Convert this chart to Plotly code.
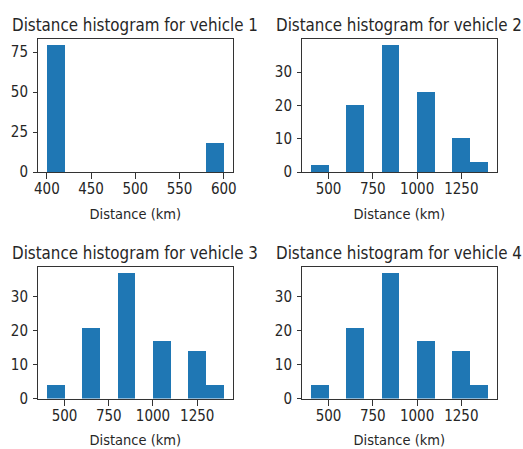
import plotly.graph_objects as go

# ---- data ----
edges_v1 = [400, 420, 440, 460, 480, 500, 520, 540, 560, 580, 600]
counts_v1 = [79, 0, 0, 0, 0, 0, 0, 0, 0, 18]

edges_v234 = [400, 500, 600, 700, 800, 900, 1000, 1100, 1200, 1300, 1400]
counts_v2 = [2, 0, 20, 0, 38, 0, 24, 0, 10, 3]
counts_v3 = [4, 0, 21, 0, 37, 0, 17, 0, 14, 4]
counts_v4 = [4, 0, 21, 0, 37, 0, 17, 0, 14, 4]

titles = ["Distance histogram for vehicle 1", "Distance histogram for vehicle 2",
          "Distance histogram for vehicle 3", "Distance histogram for vehicle 4"]
x_label = "Distance (km)"
xticks_v1 = [400, 450, 500, 550, 600]
yticks_v1 = [0, 25, 50, 75]
xticks_v234 = [500, 750, 1000, 1250]
yticks_v234 = [0, 10, 20, 30]

# ---- styling / layout ----
W, H = 523, 449
FONT = "DejaVu Sans Condensed, DejaVu Sans, sans-serif"
TXT = "#262626"
LINE = "#333333"
BAR = "#1f77b4"

domains = [
    ((38.0 / W, 232.6 / W), (1 - 172.0 / H, 1 - 39.3 / H)),
    ((302.0 / W, 496.7 / W), (1 - 172.0 / H, 1 - 39.3 / H)),
    ((38.0 / W, 232.6 / W), (1 - 398.5 / H, 1 - 266.7 / H)),
    ((302.0 / W, 496.7 / W), (1 - 398.5 / H, 1 - 266.7 / H)),
]

panels = [
    (edges_v1, counts_v1, xticks_v1, yticks_v1),
    (edges_v234, counts_v2, xticks_v234, yticks_v234),
    (edges_v234, counts_v3, xticks_v234, yticks_v234),
    (edges_v234, counts_v4, xticks_v234, yticks_v234),
]

fig = go.Figure()
layout = dict(
    width=W, height=H, autosize=False,
    margin=dict(l=0, r=0, t=0, b=0, pad=0),
    paper_bgcolor="white", plot_bgcolor="white",
    showlegend=False, bargap=0,
    font=dict(family=FONT, color=TXT),
    annotations=[],
)

for i, (edges, counts, xt, yt) in enumerate(panels):
    n = i + 1
    sfx = "" if n == 1 else str(n)
    centers = [(edges[k] + edges[k + 1]) / 2 for k in range(len(counts))]
    widths = [edges[k + 1] - edges[k] for k in range(len(counts))]
    fig.add_trace(go.Bar(
        x=centers, y=counts, width=widths,
        marker=dict(color=BAR, line=dict(width=0)),
        xaxis="x" + sfx, yaxis="y" + sfx,
    ))
    lo, hi = edges[0], edges[-1]
    pad = 0.05 * (hi - lo)
    ymax = max(counts) * 1.05
    (dx, dy) = domains[i]
    layout["xaxis" + sfx] = dict(
        domain=list(dx), anchor="y" + sfx, range=[lo - pad, hi + pad],
        automargin=False,
        tickvals=xt, ticks="outside", ticklen=6, tickwidth=1, tickcolor=LINE,
        showline=True, mirror=True, linecolor=LINE, linewidth=1,
        showgrid=False, zeroline=False, ticklabelstandoff=-3,
        tickfont=dict(family=FONT, size=15, color=TXT),
        title=dict(text=x_label, font=dict(family=FONT, size=14.5, color=TXT), standoff=11),
    )
    layout["yaxis" + sfx] = dict(
        domain=list(dy), anchor="x" + sfx, range=[0, ymax],
        automargin=False,
        tickvals=yt, ticks="outside", ticklen=4, tickwidth=1, tickcolor=LINE,
        showline=True, mirror=True, linecolor=LINE, linewidth=1,
        showgrid=False, zeroline=False, ticklabelstandoff=2,
        tickfont=dict(family=FONT, size=15, color=TXT),
    )
    layout["annotations"].append(dict(
        text=titles[i], xref="paper", yref="paper",
        x=(dx[0] + dx[1]) / 2, y=dy[1], xanchor="center", yanchor="bottom",
        yshift=2, showarrow=False,
        font=dict(family=FONT, size=16.8, color=TXT),
    ))

fig.update_layout(**layout)
fig.write_html(
    "out.html",
    config={"displayModeBar": False},
    post_script="document.body.style.margin='0';document.body.style.overflow='hidden';",
)
